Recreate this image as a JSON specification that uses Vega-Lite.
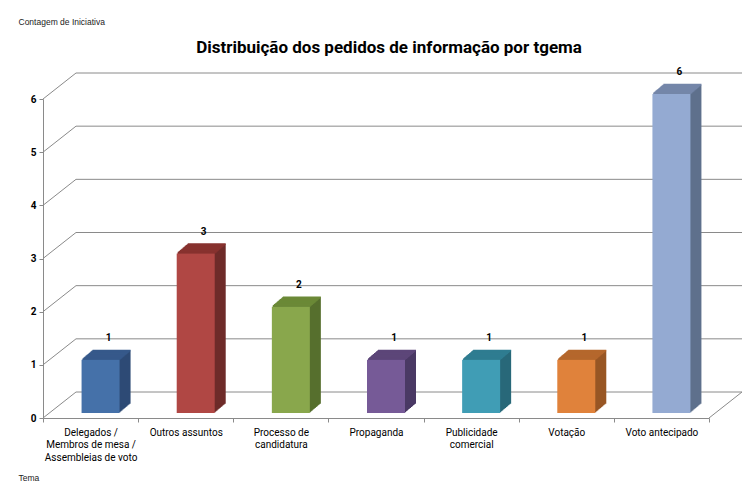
{
  "$schema": "https://vega.github.io/schema/vega-lite/v6.json",
  "width": 666,
  "height": 319,
  "autosize": {"type": "none"},
  "padding": {"left": 43, "top": 99, "right": 46, "bottom": 66},
  "background": "white",
  "title": {"text": "Distribuição dos pedidos de informação por tgema", "font": "Roboto", "fontSize": 17, "fontWeight": "bold", "color": "black", "anchor": "middle", "dx": 13, "dy": 50, "offset": 10},
  "config": {"view": {"stroke": null}},
  "datasets": {
    "pedidos": [
      {"tema": "Delegados / Membros de mesa / Assembleias de voto", "n": 1},
      {"tema": "Outros assuntos", "n": 3},
      {"tema": "Processo de candidatura", "n": 2},
      {"tema": "Propaganda", "n": 1},
      {"tema": "Publicidade comercial", "n": 1},
      {"tema": "Votação", "n": 1},
      {"tema": "Voto antecipado", "n": 6}
    ],
    "grid": [{"v": 0}, {"v": 1}, {"v": 2}, {"v": 3}, {"v": 4}, {"v": 5}, {"v": 6}]
  },
  "resolve": {"scale": {"x": "independent"}, "axis": {"y": "independent", "x": "independent"}},
  "layer": [
    {
      "data": {"name": "grid"},
      "layer": [
        {
          "mark": {"type": "rule", "color": "#8a8a8a", "strokeWidth": 1, "xOffset": 33, "x2Offset": 33, "yOffset": -26, "y2Offset": -26},
          "encoding": {
            "x": {"datum": 0, "type": "quantitative", "scale": {"domain": [0, 1]}, "axis": null},
            "x2": {"datum": 1},
            "y": {"field": "v", "type": "quantitative", "scale": {"domain": [0, 6]}, "axis": null},
            "y2": {"field": "v"}
          }
        },
        {
          "mark": {"type": "rule", "color": "#8a8a8a", "strokeWidth": 1, "x2Offset": 33, "y2Offset": -26},
          "encoding": {
            "x": {"datum": 0, "type": "quantitative", "scale": {"domain": [0, 1]}, "axis": null},
            "x2": {"datum": 0},
            "y": {"field": "v", "type": "quantitative", "scale": {"domain": [0, 6]}, "axis": null},
            "y2": {"field": "v"}
          }
        },
        {
          "transform": [{"filter": "datum.v == 0"}],
          "mark": {"type": "rule", "color": "#8a8a8a", "strokeWidth": 1, "x2Offset": 33, "y2Offset": -26},
          "encoding": {
            "x": {"datum": 1, "type": "quantitative", "scale": {"domain": [0, 1]}, "axis": null},
            "x2": {"datum": 1},
            "y": {"field": "v", "type": "quantitative", "scale": {"domain": [0, 6]}, "axis": null},
            "y2": {"field": "v"}
          }
        }
      ]
    },
    {
      "data": {"name": "pedidos"},
      "encoding": {
        "x": {
          "field": "tema", "type": "nominal", "sort": null,
          "scale": {"paddingInner": 0, "paddingOuter": 0},
          "axis": {
            "orient": "bottom",
            "title": "Tema", "titleX": -25, "titleY": 59, "titleAlign": "left", "titleBaseline": "middle", "titleAnchor": "start",
            "titleFont": "Liberation Sans", "titleFontSize": 8.5, "titleFontWeight": "normal", "titleColor": "#222222",
            "labelAngle": 0, "labelFont": "Roboto", "labelFontSize": 10, "labelColor": "black",
            "labelLineHeight": 12.5, "labelBaseline": "top", "labelPadding": 5, "labelLimit": 0,
            "labelExpr": "datum.value == 'Delegados / Membros de mesa / Assembleias de voto' ? ['Delegados /', 'Membros de mesa /', 'Assembleias de voto'] : datum.value == 'Processo de candidatura' ? ['Processo de', 'candidatura'] : datum.value == 'Publicidade comercial' ? ['Publicidade', 'comercial'] : datum.value",
            "tickBand": "extent", "tickSize": 4, "tickColor": "#8a8a8a", "domainColor": "#8a8a8a"
          }
        },
        "y": {
          "field": "n", "type": "quantitative", "scale": {"domain": [0, 6]},
          "axis": {
            "orient": "left",
            "values": [0, 1, 2, 3, 4, 5, 6], "grid": false, "domainColor": "#8a8a8a", "tickColor": "#8a8a8a", "tickSize": 4, "labelPadding": 3,
            "labelFont": "Roboto", "labelFontSize": 10, "labelColor": "black", "labelFontWeight": "bold",
            "title": "Contagem de Iniciativa", "titleAngle": 0, "titleX": -25, "titleY": -78, "titleAlign": "left", "titleBaseline": "middle", "titleAnchor": "start",
            "titleFont": "Liberation Sans", "titleFontSize": 8.5, "titleFontWeight": "normal", "titleColor": "#222222"
          }
        }
      },
      "resolve": {"scale": {"color": "independent"}},
      "layer": [
        {"mark": {"type": "bar", "width": 38, "opacity": 1, "xOffset": 11, "yOffset": -5.85, "y2Offset": -5.85}, "encoding": {"color": {"field": "tema", "type": "nominal", "legend": null, "scale": {"domain": ["Delegados / Membros de mesa / Assembleias de voto", "Outros assuntos", "Processo de candidatura", "Propaganda", "Publicidade comercial", "Votação", "Voto antecipado"], "range": ["#2d4a75", "#6e2b29", "#566f2d", "#4a3964", "#286879", "#985624", "#5e708c"]}}}},
        {"mark": {"type": "bar", "width": 38, "opacity": 1, "xOffset": 12, "yOffset": -6.7, "y2Offset": -6.7}, "encoding": {"color": {"field": "tema", "type": "nominal", "legend": null, "scale": {"domain": ["Delegados / Membros de mesa / Assembleias de voto", "Outros assuntos", "Processo de candidatura", "Propaganda", "Publicidade comercial", "Votação", "Voto antecipado"], "range": ["#2d4a75", "#6e2b29", "#566f2d", "#4a3964", "#286879", "#985624", "#5e708c"]}}}},
        {"mark": {"type": "bar", "width": 38, "opacity": 1, "xOffset": 13, "yOffset": -7.55, "y2Offset": -7.55}, "encoding": {"color": {"field": "tema", "type": "nominal", "legend": null, "scale": {"domain": ["Delegados / Membros de mesa / Assembleias de voto", "Outros assuntos", "Processo de candidatura", "Propaganda", "Publicidade comercial", "Votação", "Voto antecipado"], "range": ["#2d4a75", "#6e2b29", "#566f2d", "#4a3964", "#286879", "#985624", "#5e708c"]}}}},
        {"mark": {"type": "bar", "width": 38, "opacity": 1, "xOffset": 14, "yOffset": -8.4, "y2Offset": -8.4}, "encoding": {"color": {"field": "tema", "type": "nominal", "legend": null, "scale": {"domain": ["Delegados / Membros de mesa / Assembleias de voto", "Outros assuntos", "Processo de candidatura", "Propaganda", "Publicidade comercial", "Votação", "Voto antecipado"], "range": ["#2d4a75", "#6e2b29", "#566f2d", "#4a3964", "#286879", "#985624", "#5e708c"]}}}},
        {"mark": {"type": "bar", "width": 38, "opacity": 1, "xOffset": 15, "yOffset": -9.25, "y2Offset": -9.25}, "encoding": {"color": {"field": "tema", "type": "nominal", "legend": null, "scale": {"domain": ["Delegados / Membros de mesa / Assembleias de voto", "Outros assuntos", "Processo de candidatura", "Propaganda", "Publicidade comercial", "Votação", "Voto antecipado"], "range": ["#2d4a75", "#6e2b29", "#566f2d", "#4a3964", "#286879", "#985624", "#5e708c"]}}}},
        {"mark": {"type": "bar", "width": 38, "opacity": 1, "xOffset": 16, "yOffset": -10.1, "y2Offset": -10.1}, "encoding": {"color": {"field": "tema", "type": "nominal", "legend": null, "scale": {"domain": ["Delegados / Membros de mesa / Assembleias de voto", "Outros assuntos", "Processo de candidatura", "Propaganda", "Publicidade comercial", "Votação", "Voto antecipado"], "range": ["#2d4a75", "#6e2b29", "#566f2d", "#4a3964", "#286879", "#985624", "#5e708c"]}}}},
        {"mark": {"type": "bar", "width": 38, "opacity": 1, "xOffset": 17, "yOffset": -10.95, "y2Offset": -10.95}, "encoding": {"color": {"field": "tema", "type": "nominal", "legend": null, "scale": {"domain": ["Delegados / Membros de mesa / Assembleias de voto", "Outros assuntos", "Processo de candidatura", "Propaganda", "Publicidade comercial", "Votação", "Voto antecipado"], "range": ["#2d4a75", "#6e2b29", "#566f2d", "#4a3964", "#286879", "#985624", "#5e708c"]}}}},
        {"mark": {"type": "bar", "width": 38, "opacity": 1, "xOffset": 18, "yOffset": -11.8, "y2Offset": -11.8}, "encoding": {"color": {"field": "tema", "type": "nominal", "legend": null, "scale": {"domain": ["Delegados / Membros de mesa / Assembleias de voto", "Outros assuntos", "Processo de candidatura", "Propaganda", "Publicidade comercial", "Votação", "Voto antecipado"], "range": ["#2d4a75", "#6e2b29", "#566f2d", "#4a3964", "#286879", "#985624", "#5e708c"]}}}},
        {"mark": {"type": "bar", "width": 38, "opacity": 1, "xOffset": 19, "yOffset": -12.65, "y2Offset": -12.65}, "encoding": {"color": {"field": "tema", "type": "nominal", "legend": null, "scale": {"domain": ["Delegados / Membros de mesa / Assembleias de voto", "Outros assuntos", "Processo de candidatura", "Propaganda", "Publicidade comercial", "Votação", "Voto antecipado"], "range": ["#2d4a75", "#6e2b29", "#566f2d", "#4a3964", "#286879", "#985624", "#5e708c"]}}}},
        {"mark": {"type": "bar", "width": 38, "opacity": 1, "xOffset": 20, "yOffset": -13.5, "y2Offset": -13.5}, "encoding": {"color": {"field": "tema", "type": "nominal", "legend": null, "scale": {"domain": ["Delegados / Membros de mesa / Assembleias de voto", "Outros assuntos", "Processo de candidatura", "Propaganda", "Publicidade comercial", "Votação", "Voto antecipado"], "range": ["#2d4a75", "#6e2b29", "#566f2d", "#4a3964", "#286879", "#985624", "#5e708c"]}}}},
        {"mark": {"type": "bar", "width": 38, "opacity": 1, "xOffset": 21, "yOffset": -14.35, "y2Offset": -14.35}, "encoding": {"color": {"field": "tema", "type": "nominal", "legend": null, "scale": {"domain": ["Delegados / Membros de mesa / Assembleias de voto", "Outros assuntos", "Processo de candidatura", "Propaganda", "Publicidade comercial", "Votação", "Voto antecipado"], "range": ["#2d4a75", "#6e2b29", "#566f2d", "#4a3964", "#286879", "#985624", "#5e708c"]}}}},
        {"mark": {"type": "tick", "size": 38, "thickness": 1.7, "opacity": 1, "orient": "horizontal", "xOffset": 11, "yOffset": -5.85}, "encoding": {"color": {"field": "tema", "type": "nominal", "legend": null, "scale": {"domain": ["Delegados / Membros de mesa / Assembleias de voto", "Outros assuntos", "Processo de candidatura", "Propaganda", "Publicidade comercial", "Votação", "Voto antecipado"], "range": ["#36598a", "#87322f", "#6b8937", "#5c4679", "#2f7c91", "#b5672c", "#7486a9"]}}}},
        {"mark": {"type": "tick", "size": 38, "thickness": 1.7, "opacity": 1, "orient": "horizontal", "xOffset": 12, "yOffset": -6.7}, "encoding": {"color": {"field": "tema", "type": "nominal", "legend": null, "scale": {"domain": ["Delegados / Membros de mesa / Assembleias de voto", "Outros assuntos", "Processo de candidatura", "Propaganda", "Publicidade comercial", "Votação", "Voto antecipado"], "range": ["#36598a", "#87322f", "#6b8937", "#5c4679", "#2f7c91", "#b5672c", "#7486a9"]}}}},
        {"mark": {"type": "tick", "size": 38, "thickness": 1.7, "opacity": 1, "orient": "horizontal", "xOffset": 13, "yOffset": -7.55}, "encoding": {"color": {"field": "tema", "type": "nominal", "legend": null, "scale": {"domain": ["Delegados / Membros de mesa / Assembleias de voto", "Outros assuntos", "Processo de candidatura", "Propaganda", "Publicidade comercial", "Votação", "Voto antecipado"], "range": ["#36598a", "#87322f", "#6b8937", "#5c4679", "#2f7c91", "#b5672c", "#7486a9"]}}}},
        {"mark": {"type": "tick", "size": 38, "thickness": 1.7, "opacity": 1, "orient": "horizontal", "xOffset": 14, "yOffset": -8.4}, "encoding": {"color": {"field": "tema", "type": "nominal", "legend": null, "scale": {"domain": ["Delegados / Membros de mesa / Assembleias de voto", "Outros assuntos", "Processo de candidatura", "Propaganda", "Publicidade comercial", "Votação", "Voto antecipado"], "range": ["#36598a", "#87322f", "#6b8937", "#5c4679", "#2f7c91", "#b5672c", "#7486a9"]}}}},
        {"mark": {"type": "tick", "size": 38, "thickness": 1.7, "opacity": 1, "orient": "horizontal", "xOffset": 15, "yOffset": -9.25}, "encoding": {"color": {"field": "tema", "type": "nominal", "legend": null, "scale": {"domain": ["Delegados / Membros de mesa / Assembleias de voto", "Outros assuntos", "Processo de candidatura", "Propaganda", "Publicidade comercial", "Votação", "Voto antecipado"], "range": ["#36598a", "#87322f", "#6b8937", "#5c4679", "#2f7c91", "#b5672c", "#7486a9"]}}}},
        {"mark": {"type": "tick", "size": 38, "thickness": 1.7, "opacity": 1, "orient": "horizontal", "xOffset": 16, "yOffset": -10.1}, "encoding": {"color": {"field": "tema", "type": "nominal", "legend": null, "scale": {"domain": ["Delegados / Membros de mesa / Assembleias de voto", "Outros assuntos", "Processo de candidatura", "Propaganda", "Publicidade comercial", "Votação", "Voto antecipado"], "range": ["#36598a", "#87322f", "#6b8937", "#5c4679", "#2f7c91", "#b5672c", "#7486a9"]}}}},
        {"mark": {"type": "tick", "size": 38, "thickness": 1.7, "opacity": 1, "orient": "horizontal", "xOffset": 17, "yOffset": -10.95}, "encoding": {"color": {"field": "tema", "type": "nominal", "legend": null, "scale": {"domain": ["Delegados / Membros de mesa / Assembleias de voto", "Outros assuntos", "Processo de candidatura", "Propaganda", "Publicidade comercial", "Votação", "Voto antecipado"], "range": ["#36598a", "#87322f", "#6b8937", "#5c4679", "#2f7c91", "#b5672c", "#7486a9"]}}}},
        {"mark": {"type": "tick", "size": 38, "thickness": 1.7, "opacity": 1, "orient": "horizontal", "xOffset": 18, "yOffset": -11.8}, "encoding": {"color": {"field": "tema", "type": "nominal", "legend": null, "scale": {"domain": ["Delegados / Membros de mesa / Assembleias de voto", "Outros assuntos", "Processo de candidatura", "Propaganda", "Publicidade comercial", "Votação", "Voto antecipado"], "range": ["#36598a", "#87322f", "#6b8937", "#5c4679", "#2f7c91", "#b5672c", "#7486a9"]}}}},
        {"mark": {"type": "tick", "size": 38, "thickness": 1.7, "opacity": 1, "orient": "horizontal", "xOffset": 19, "yOffset": -12.65}, "encoding": {"color": {"field": "tema", "type": "nominal", "legend": null, "scale": {"domain": ["Delegados / Membros de mesa / Assembleias de voto", "Outros assuntos", "Processo de candidatura", "Propaganda", "Publicidade comercial", "Votação", "Voto antecipado"], "range": ["#36598a", "#87322f", "#6b8937", "#5c4679", "#2f7c91", "#b5672c", "#7486a9"]}}}},
        {"mark": {"type": "tick", "size": 38, "thickness": 1.7, "opacity": 1, "orient": "horizontal", "xOffset": 20, "yOffset": -13.5}, "encoding": {"color": {"field": "tema", "type": "nominal", "legend": null, "scale": {"domain": ["Delegados / Membros de mesa / Assembleias de voto", "Outros assuntos", "Processo de candidatura", "Propaganda", "Publicidade comercial", "Votação", "Voto antecipado"], "range": ["#36598a", "#87322f", "#6b8937", "#5c4679", "#2f7c91", "#b5672c", "#7486a9"]}}}},
        {"mark": {"type": "tick", "size": 38, "thickness": 1.7, "opacity": 1, "orient": "horizontal", "xOffset": 21, "yOffset": -14.35}, "encoding": {"color": {"field": "tema", "type": "nominal", "legend": null, "scale": {"domain": ["Delegados / Membros de mesa / Assembleias de voto", "Outros assuntos", "Processo de candidatura", "Propaganda", "Publicidade comercial", "Votação", "Voto antecipado"], "range": ["#36598a", "#87322f", "#6b8937", "#5c4679", "#2f7c91", "#b5672c", "#7486a9"]}}}},
        {"mark": {"type": "bar", "width": 38, "opacity": 1, "xOffset": 10, "yOffset": -5, "y2Offset": -5}, "encoding": {"color": {"field": "tema", "type": "nominal", "legend": null, "scale": {"domain": ["Delegados / Membros de mesa / Assembleias de voto", "Outros assuntos", "Processo de candidatura", "Propaganda", "Publicidade comercial", "Votação", "Voto antecipado"], "range": ["#4571a9", "#b04744", "#89a74c", "#765a97", "#409db5", "#e0823b", "#94aad2"]}}}},
        {"mark": {"type": "text", "dx": 18, "dy": -27, "fontSize": 10, "fontWeight": "bold", "font": "Roboto", "color": "black", "baseline": "middle"}, "encoding": {"text": {"field": "n", "type": "quantitative"}}}
      ]
    }
  ]
}
